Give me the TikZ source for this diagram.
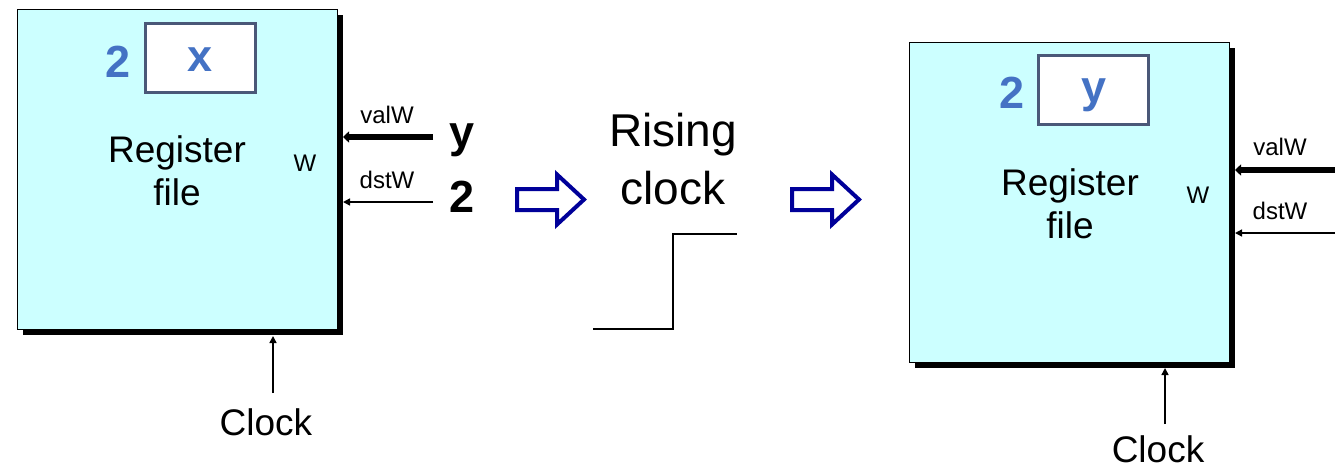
\documentclass[tikz,border=0pt]{standalone}
\usepackage{fontspec}
\setmainfont{Liberation Sans}
\usetikzlibrary{arrows.meta,calc,shadows}
\definecolor{regfill}{HTML}{CCFFFF}
\definecolor{valblue}{HTML}{4472C4}
\definecolor{slate}{HTML}{4A5878}
\definecolor{navy}{HTML}{000099}
\tikzset{
  regbox/.style={draw=black, line width=1pt, fill=regfill, minimum width=320pt, minimum height=320pt, inner sep=0pt,
    drop shadow={shadow xshift=6pt, shadow yshift=-6pt, opacity=1, fill=black}},
  regcell/.style={draw=slate, line width=3pt, fill=white, minimum width=110pt, minimum height=69pt, inner sep=0pt},
  regval/.style={text=valblue, font=\bfseries\fontsize{45}{45}\selectfont, inner sep=0pt, anchor=base},
  bigtxt/.style={font=\fontsize{37}{43}\selectfont, align=center, inner sep=0pt},
  risetxt/.style={font=\fontsize{46}{58}\selectfont, align=center, inner sep=0pt},
  smalltxt/.style={font=\fontsize{24}{24}\selectfont, inner sep=0pt},
  boldin/.style={font=\bfseries\fontsize{45}{45}\selectfont, inner sep=0pt},
  widewire/.style={line width=6.5pt, -{Triangle[length=6pt,width=11pt]}},
  thinwire/.style={line width=1.5pt, -{Triangle[length=7pt,width=7pt]}},
  hollowarrow/.pic={\draw[navy, line width=4pt, miter limit=10]
      (2,-10.5) -- (42,-10.5) -- (42,-25) -- (69,0) -- (42,25) -- (42,10.5) -- (2,10.5) -- cycle;},
}
\begin{document}
\begin{tikzpicture}[x=1pt,y=-1pt]
\useasboundingbox (0,0) rectangle (1335,469);

% ---------- left register file ----------
\node[regbox] (rf1) at (177,169) {};
\node[regcell] (cell1) at (200.5,57.5) {};
\node[regval] (x1) at (200.5,71) {x};
\node[regval] (idx1) at (118,77) {2};
\node[bigtxt] (name1) at (177,171) {Register\\file};
\node[smalltxt] (w1) at (305,163) {W};
\node[smalltxt] (valw1) at (387,115) {valW};
\node[smalltxt] (dstw1) at (387,180) {dstW};
\node[boldin] (yin) at (462,140) {y};
\node[boldin] (twoin) at (462,197) {2};
\coordinate (valsrc1) at (433,137);
\coordinate (valdst1) at (343,137);
\coordinate (dstsrc1) at (433,202);
\coordinate (dstdst1) at (343,202);
\draw[widewire] (valsrc1) -- (valdst1);
\draw[thinwire] (dstsrc1) -- (dstdst1);
\node[bigtxt] (clk1) at (266,422) {Clock};
\coordinate (clksrc1) at (273,393);
\coordinate (clkdst1) at (273,336);
\draw[thinwire] (clksrc1) -- (clkdst1);

% ---------- middle ----------
\pic at (515,199.5) {hollowarrow};
\node[risetxt] (rise) at (673,159) {Rising\\clock};
\coordinate (lo0) at (593,329);
\coordinate (lo1) at (673,329);
\coordinate (hi1) at (673,234);
\coordinate (hi2) at (737,234);
\draw[line width=1.5pt] (lo0) -- (lo1) -- (hi1) -- (hi2);
\pic at (790,199.5) {hollowarrow};

% ---------- right register file ----------
\node[regbox] (rf2) at (1069,202) {};
\node[regcell] (cell2) at (1093.5,89.5) {};
\node[regval] (y2) at (1093.5,102) {y};
\node[regval] (idx2) at (1012,108) {2};
\node[bigtxt] (name2) at (1070,204) {Register\\file};
\node[smalltxt] (w2) at (1198,195) {W};
\node[smalltxt] (valw2) at (1280,147) {valW};
\node[smalltxt] (dstw2) at (1280,211) {dstW};
\coordinate (valsrc2) at (1335,170);
\coordinate (valdst2) at (1235,170);
\coordinate (dstsrc2) at (1335,233);
\coordinate (dstdst2) at (1235,233);
\draw[widewire] (valsrc2) -- (valdst2);
\draw[thinwire] (dstsrc2) -- (dstdst2);
\node[bigtxt] (clk2) at (1158,449) {Clock};
\coordinate (clksrc2) at (1165,424);
\coordinate (clkdst2) at (1165,368);
\draw[thinwire] (clksrc2) -- (clkdst2);
\end{tikzpicture}
\end{document}
